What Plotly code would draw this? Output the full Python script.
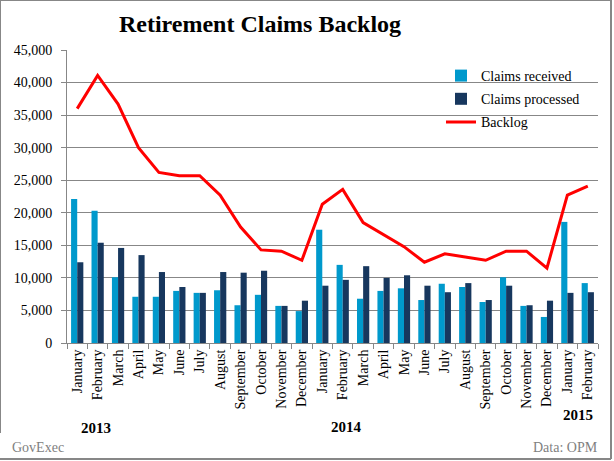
import plotly.graph_objects as go

months = ["January", "February", "March", "April", "May", "June", "July",
          "August", "September", "October", "November", "December",
          "January", "February", "March", "April", "May", "June", "July",
          "August", "September", "October", "November", "December",
          "January", "February"]
years = [2013] * 12 + [2014] * 12 + [2015] * 2
year_labels = ["2013", "2014", "2015"]

received = [22100, 20300, 10100, 7100, 7100, 8000, 7700, 8100, 5800, 7400, 5700, 4900,
            17400, 12000, 6800, 8000, 8400, 6600, 9100, 8600, 6300, 10100, 5700, 4000,
            18600, 9200]
processed = [12400, 15400, 14600, 13500, 10900, 8600, 7700, 10900, 10800, 11100, 5700, 6500,
             8800, 9700, 11800, 10000, 10400, 8800, 7800, 9200, 6600, 8800, 5800, 6500,
             7700, 7800]
backlog = [36000, 41100, 36700, 30000, 26200, 25700, 25700, 22700, 17800, 14300, 14100, 12700,
           21300, 23600, 18500, 16600, 14800, 12400, 13700, 13200, 12700, 14100, 14100, 11500,
           22700, 24100]

ids = [f"{y}-{i}-{m}" for i, (y, m) in enumerate(zip(years, months))]

SERIF = "Liberation Serif"
GRID = "#878787"

W, H = 614, 461
L, R, T, B = 67, 16, 50, 118
PW, PH = W - L - R, H - T - B


def px(x):
    return (x - L) / PW


def py(y):
    return (H - B - y) / PH


fig = go.Figure()
fig.add_trace(go.Bar(x=ids, y=received, name="Claims received",
                     marker=dict(color="#0099CC", line=dict(width=0)), legendgroup="a"))
fig.add_trace(go.Bar(x=ids, y=processed, name="Claims processed",
                     marker=dict(color="#17375E", line=dict(width=0)), legendgroup="b"))
fig.add_trace(go.Scatter(x=ids, y=backlog, name="Backlog", mode="lines",
                         line=dict(color="#FF0000", width=3), legendgroup="c"))

annotations = [
    dict(text=year_labels[0], x=px(96), y=py(428)),
    dict(text=year_labels[1], x=px(346), y=py(427)),
    dict(text=year_labels[2], x=px(578), y=py(415)),
]
annotations = [dict(a, xref="paper", yref="paper", showarrow=False, xanchor="center",
                    yanchor="middle", font=dict(family=SERIF, size=15, color="black"),
                    ) for a in annotations]
for a in annotations:
    a["text"] = "<b>" + a["text"] + "</b>"
annotations += [
    dict(text="GovExec", x=px(10), y=py(447), xref="paper", yref="paper", showarrow=False,
         xanchor="left", yanchor="middle", font=dict(family=SERIF, size=14, color="#7F7F7F")),
    dict(text="Data: OPM", x=px(600), y=py(447), xref="paper", yref="paper", showarrow=False,
         xanchor="right", yanchor="middle", font=dict(family=SERIF, size=14, color="#7F7F7F")),
]

border = dict(color=GRID, width=2)
shapes = [
    dict(type="line", xref="paper", yref="paper", x0=px(0), x1=px(611), y0=py(0), y1=py(0), line=border),
    dict(type="line", xref="paper", yref="paper", x0=px(0), x1=px(0), y0=py(0), y1=py(433), line=border),
    dict(type="line", xref="paper", yref="paper", x0=px(611), x1=px(611), y0=py(0), y1=py(459), line=border),
    dict(type="line", xref="paper", yref="paper", x0=px(0), x1=px(611), y0=py(459), y1=py(459), line=border),
]

fig.update_layout(
    width=W, height=H,
    margin=dict(l=L, r=R, t=T, b=B),
    paper_bgcolor="white", plot_bgcolor="white",
    barmode="group", bargap=0.4, bargroupgap=0,
    title=dict(text="<b>Retirement Claims Backlog</b>", x=260 / W, xanchor="center",
               y=1 - 24 / H, yanchor="middle", xref="container", yref="container",
               font=dict(family=SERIF, size=24, color="black")),
    legend=dict(x=px(441), y=py(60), xanchor="left", yanchor="top",
                font=dict(family=SERIF, size=14, color="black"),
                bgcolor="rgba(0,0,0,0)", traceorder="grouped", tracegroupgap=2,
                itemwidth=30),
    xaxis=dict(type="category", tickmode="array", tickvals=ids, ticktext=months,
               tickangle=-90, tickson="boundaries", ticks="outside", ticklen=5,
               tickcolor=GRID, showline=True, linecolor=GRID, linewidth=1,
               showgrid=False, tickfont=dict(family=SERIF, size=14, color="black"),
               range=[-0.5, 25.5]),
    yaxis=dict(range=[0, 45000], dtick=5000, tickformat=",d", showgrid=True,
               gridcolor=GRID, gridwidth=1, showline=True, linecolor=GRID,
               linewidth=1, ticks="outside", ticklen=5, tickcolor=GRID,
               zeroline=False, tickfont=dict(family=SERIF, size=14, color="black"),
               ticklabelstandoff=6),
    annotations=annotations,
    shapes=shapes,
    showlegend=True,
)

fig.write_html("out.html", config={"displayModeBar": False},
               post_script="document.body.style.margin='0';document.body.style.overflow='hidden';")
